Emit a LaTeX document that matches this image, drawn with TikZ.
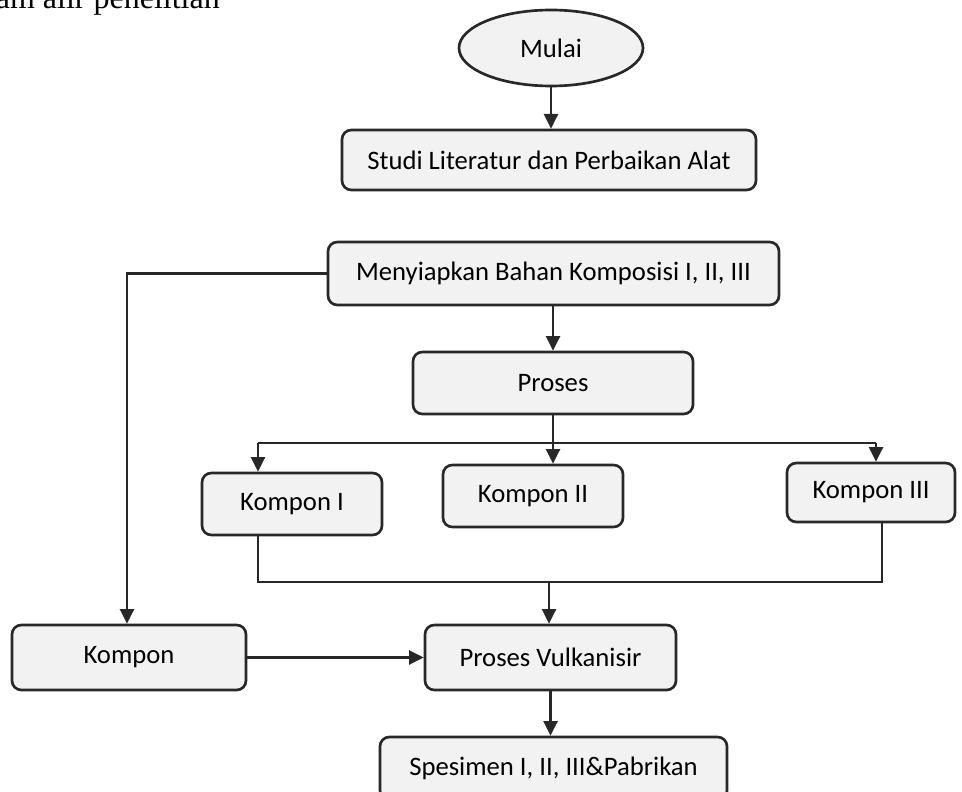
\documentclass[tikz,border=0pt]{standalone}
\usepackage{fontspec}
\setmainfont{Carlito}
\newfontfamily\serifa{Liberation Serif}
\usetikzlibrary{arrows.meta,shapes.geometric}
\definecolor{boxfill}{RGB}{242,242,242}
\definecolor{ink}{RGB}{40,40,40}
\tikzset{
  stepbox/.style={draw=ink, fill=boxfill, line width=2pt, rounded corners=7pt,
    inner sep=0pt, align=center, font=\fontsize{20}{24}\selectfont},
  startnode/.style={draw=ink, fill=boxfill, line width=2pt, ellipse, inner sep=0pt,
    font=\fontsize{20}{24}\selectfont},
  conn/.style={draw=ink, line width=2pt},
  arr/.style={conn, -{Triangle[width=10.5pt,length=11pt]}}
}
\begin{document}
\begin{tikzpicture}[x=0.75pt,y=-0.75pt]
\clip (0,0) rectangle (962,791);
\fill[white] (0,0) rectangle (962,791);
\node[anchor=base east, inner sep=0pt, font=\serifa\fontsize{24}{28}\selectfont] (cap) at (220,9) {am alir penelitian};

\node[startnode, minimum width=138pt, minimum height=57pt] (mulai) at (551,48) {Mulai};
\node[stepbox, minimum width=310.5pt, minimum height=45pt] (studi) at (549,160) {Studi Literatur dan Perbaikan Alat};
\node[stepbox, minimum width=338.25pt, minimum height=47.25pt] (siap) at (553.5,273.5) {Menyiapkan Bahan Komposisi I, II, III};
\node[stepbox, minimum width=210pt, minimum height=46.5pt] (proses) at (553,383) {Proses};
\node[stepbox, minimum width=135pt, minimum height=46.5pt] (k1) at (292,504) {Kompon I};
\node[stepbox, minimum width=135pt, minimum height=46.5pt] (k2) at (533,496) {Kompon II};
\node[stepbox, minimum width=126pt, minimum height=44.25pt] (k3) at (871,492.5) {Kompon III};
\node[stepbox, minimum width=175.5pt, minimum height=48.75pt] (kompon) at (129,657.5) {Kompon};
\node[stepbox, minimum width=188.25pt, minimum height=48.75pt] (pv) at (550.5,657.5) {Proses Vulkanisir};
\node[stepbox, minimum width=260.25pt, minimum height=47.25pt] (spes) at (553.5,768.5) {Spesimen I, II, III\&Pabrikan};

\coordinate (jL) at (127,273.5);
\coordinate (hL) at (258,443);
\coordinate (hR) at (876,443);
\coordinate (bL) at (258,582);
\coordinate (bR) at (882,582);
\coordinate (bM) at (549,582);

\draw[arr] (mulai.south) -- (mulai.south |- studi.north);
\draw[arr] (siap.west) -- (jL) -- (jL |- kompon.north);
\draw[arr] (proses.north |- siap.south) -- (proses.north);
\draw[arr] (proses.south) -- (proses.south |- k2.north);
\draw[conn] (hL) -- (hR);
\draw[arr] (hL) -- (hL |- k1.north);
\draw[arr] (hR) -- (hR |- k3.north);
\draw[conn] (bL |- k1.south) -- (bL) -- (bR) -- (bR |- k3.south);
\draw[arr] (bM) -- (bM |- pv.north);
\draw[arr] (kompon.east) -- (pv.west);
\draw[arr] (pv.south) -- (pv.south |- spes.north);
\end{tikzpicture}
\end{document}
